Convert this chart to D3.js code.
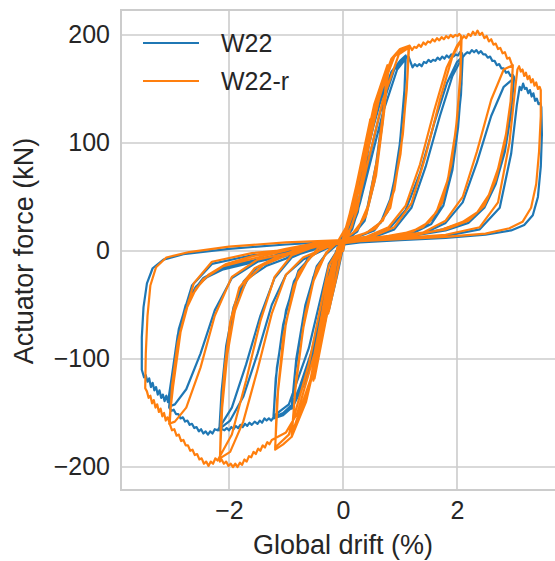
<!DOCTYPE html>
<html>
<head>
<meta charset="utf-8">
<script src="https://cdn.jsdelivr.net/npm/d3@7"></script>
<style>
  html, body { margin: 0; padding: 0; background: #ffffff; }
  svg { display: block; }
  text { font-family: "Liberation Sans", Arial, "DejaVu Sans", sans-serif; fill: #262626; }
</style>
</head>
<body>
<svg id="chart" width="555" height="561"></svg>
<script>
// Cyclic test: actuator force (kN) against global drift (%), two specimens.
const seriesNames = ["W22", "W22-r"];
const xTicks = [-2, 0, 2];
const yTicks = [-200, -100, 0, 100, 200];

// W22: [drift %, force kN] along the loading history
const w22 = [
  [0,0],[0.1,24],[0.25,56],[0.14,30],[0.02,8],[-0.1,-22],[-0.25,-55],[-0.14,-28],[-0.02,4],
  [0.1,26],[0.26,57],[0.13,28],[0.01,7],[-0.12,-26],[-0.26,-56],[-0.13,-26],[0,6],
  [0.2,48],[0.5,118],[0.42,88],[0.3,45],[0.16,20],[0.03,10],[-0.1,-8],[-0.3,-62],[-0.52,-112],[-0.45,-80],[-0.32,-38],[-0.18,-10],[-0.03,5],
  [0.22,50],[0.51,116],[0.4,80],[0.26,36],[0.1,14],[0,9],[-0.14,-16],[-0.34,-70],[-0.53,-110],[-0.44,-72],[-0.28,-26],[-0.12,0],[0,7],
  [0.25,60],[0.55,128],[0.75,160],[0.7,128],[0.58,80],[0.42,38],[0.25,18],[0.08,12],[-0.1,2],[-0.35,-58],[-0.65,-120],[-0.9,-146],[-0.84,-112],[-0.7,-62],[-0.52,-24],[-0.32,-4],[-0.1,6],
  [0.1,22],[0.4,90],[0.76,158],[0.69,118],[0.55,64],[0.38,28],[0.18,15],[0,10],[-0.2,-20],[-0.5,-92],[-0.9,-144],[-0.82,-100],[-0.66,-50],[-0.46,-14],[-0.2,4],
  [0,9],[0.25,52],[0.6,130],[0.85,166],[1.0,176],[1.1,181],[1.08,150],[1.0,100],[0.86,52],[0.66,26],[0.4,16],[0.12,11],[-0.05,6],[-0.3,-38],[-0.65,-115],[-0.92,-146],[-1.05,-152],[-1.22,-155],[-1.18,-118],[-1.05,-68],[-0.86,-28],[-0.6,-6],[-0.3,4],
  [0,9],[0.3,45],[0.7,128],[0.95,168],[1.1,178],[1.07,138],[0.96,80],[0.78,36],[0.55,19],[0.25,13],[0,9],[-0.25,-12],[-0.6,-90],[-0.95,-142],[-1.22,-153],[-1.16,-108],[-1.0,-55],[-0.78,-18],[-0.45,1],[-0.15,7],
  [0,9],[0.3,52],[0.65,128],[0.9,168],[1.05,177],[1.15,180],[1.22,170],[1.26,173],[1.3,171],[1.34,173],[1.38,171],[1.42,175],[1.46,174],[1.5,177],[1.54,175],[1.58,177],[1.62,176],[1.66,179],[1.7,177],[1.74,180],[1.78,178],[1.82,181],[1.86,179],[1.9,182],[1.94,180],[1.98,182],[2.02,181],[2.05,184],[2.09,183],
  [2.08,155],[2.02,115],[1.92,75],[1.76,42],[1.55,25],[1.25,17],[0.8,13],[0.35,10],[0,8],
  [-0.2,-15],[-0.5,-85],[-0.85,-140],[-1.05,-150],[-1.22,-154],[-1.26,-157],[-1.3,-155],[-1.34,-157],[-1.38,-155],[-1.42,-159],[-1.46,-157],[-1.5,-160],[-1.55,-158],[-1.6,-161],[-1.64,-159],[-1.68,-162],[-1.72,-160],[-1.76,-163],[-1.8,-161],[-1.84,-164],[-1.88,-162],[-1.92,-165],[-1.96,-163],[-2.0,-166],[-2.04,-164],[-2.08,-166],[-2.12,-165],[-2.17,-166],
  [-2.13,-130],[-2.05,-88],[-1.92,-52],[-1.74,-28],[-1.5,-15],[-1.1,-6],[-0.6,2],[-0.2,7],
  [0,9],[0.4,12],[0.8,20],[1.1,38],[1.35,72],[1.6,118],[1.82,155],[2.0,175],[2.1,180],
  [2.07,145],[1.98,100],[1.84,60],[1.65,34],[1.4,21],[1.0,14],[0.5,11],[0,8],
  [-0.3,2],[-0.7,-8],[-1.0,-22],[-1.25,-50],[-1.5,-95],[-1.75,-135],[-1.98,-157],[-2.15,-164],
  [-2.1,-120],[-2.0,-78],[-1.86,-45],[-1.66,-25],[-1.35,-14],[-0.9,-5],[-0.4,3],[0,8],
  [0.5,12],[0.9,20],[1.2,40],[1.45,78],[1.7,125],[1.92,162],[2.08,178],[2.14,182],[2.18,184],[2.22,183],[2.26,186],[2.3,184],[2.34,186],[2.38,183],[2.42,185],[2.46,182],[2.5,182],[2.54,179],[2.58,180],[2.62,176],[2.66,176],[2.7,172],[2.74,173],[2.78,169],[2.82,169],[2.86,165],[2.9,166],[2.94,162],[2.98,163],[3.0,161],
  [2.96,135],[2.86,102],[2.72,72],[2.56,50],[2.36,35],[2.1,26],[1.75,20],[1.3,15],[0.7,12],[0,9],
  [-0.5,3],[-0.9,-6],[-1.2,-25],[-1.45,-60],[-1.7,-105],[-1.95,-145],[-2.15,-162],[-2.2,-166],[-2.25,-165],[-2.29,-169],[-2.33,-167],[-2.37,-170],[-2.41,-167],[-2.45,-169],[-2.49,-165],[-2.53,-167],[-2.57,-163],[-2.61,-164],[-2.65,-160],[-2.69,-161],[-2.73,-157],[-2.77,-158],[-2.81,-154],[-2.85,-155],[-2.89,-151],[-2.93,-151],[-2.97,-147],[-3.01,-148],[-3.05,-145],
  [-3.0,-115],[-2.9,-78],[-2.76,-50],[-2.58,-33],[-2.38,-24],[-2.1,-17],[-1.7,-12],[-1.2,-6],[-0.6,2],[0,8],
  [0.8,12],[1.4,16],[1.8,26],[2.1,45],[2.35,82],[2.6,125],[2.82,152],[3.0,160],
  [2.95,128],[2.84,92],[2.68,62],[2.48,40],[2.2,26],[1.8,19],[1.2,14],[0.5,11],[0,8],
  [-0.8,-2],[-1.5,-10],[-1.95,-25],[-2.25,-55],[-2.5,-95],[-2.75,-128],[-2.95,-142],[-3.05,-144],
  [-2.98,-108],[-2.86,-70],[-2.7,-42],[-2.45,-25],[-2.1,-15],[-1.5,-8],[-0.8,1],[0,8],
  [1.0,11],[1.8,14],[2.4,20],[2.75,40],[2.95,90],[3.05,135],[3.1,152],[3.13,149],[3.16,155],[3.19,150],[3.22,151],[3.25,146],[3.28,149],[3.31,143],[3.34,146],[3.37,139],[3.4,141],[3.43,136],[3.46,137],[3.48,133],
  [3.49,108],[3.47,78],[3.42,50],[3.33,33],[3.18,24],[2.95,19],[2.5,15],[1.8,12],[1.0,10],[0.3,8],
  [-0.6,2],[-1.6,-4],[-2.3,-12],[-2.65,-32],[-2.88,-72],[-3.0,-115],[-3.07,-140],[-3.1,-134],[-3.13,-139],[-3.16,-133],[-3.19,-136],[-3.22,-129],[-3.25,-133],[-3.28,-126],[-3.31,-129],[-3.34,-122],[-3.37,-126],[-3.4,-118],[-3.43,-121],[-3.46,-115],[-3.49,-117],[-3.53,-110],
  [-3.53,-80],[-3.5,-52],[-3.44,-30],[-3.34,-16],[-3.15,-8],[-2.8,-3],[-2.0,2],[-1.0,6],[0,9]
];

// W22-r: [drift %, force kN] along the loading history
const w22r = [
  [0,0],[0.1,26],[0.25,58],[0.14,32],[0.02,10],[-0.1,-20],[-0.25,-56],[-0.14,-30],[-0.02,4],
  [0.1,28],[0.26,60],[0.13,30],[0.01,9],[-0.12,-24],[-0.26,-58],[-0.13,-28],[0,7],
  [0.2,52],[0.48,122],[0.4,90],[0.28,46],[0.15,22],[0.03,12],[-0.1,-6],[-0.3,-64],[-0.5,-118],[-0.43,-84],[-0.3,-40],[-0.16,-10],[-0.03,6],
  [0.22,54],[0.5,124],[0.4,84],[0.25,38],[0.1,16],[0,10],[-0.14,-14],[-0.34,-74],[-0.52,-120],[-0.43,-76],[-0.27,-28],[-0.1,1],[0,8],
  [0.25,64],[0.55,136],[0.78,172],[0.72,135],[0.6,85],[0.44,42],[0.26,20],[0.08,13],[-0.1,3],[-0.35,-72],[-0.65,-140],[-0.9,-172],[-0.84,-130],[-0.7,-72],[-0.52,-28],[-0.3,-2],[-0.1,8],
  [0.1,26],[0.4,100],[0.8,170],[0.72,128],[0.58,70],[0.4,32],[0.18,17],[0,11],[-0.2,-24],[-0.5,-108],[-0.9,-170],[-0.82,-118],[-0.66,-58],[-0.46,-16],[-0.2,5],
  [0,10],[0.25,58],[0.6,142],[0.85,178],[1.0,187],[1.16,190],[1.13,160],[1.05,108],[0.9,56],[0.7,28],[0.42,17],[0.12,12],[-0.05,7],[-0.3,-48],[-0.62,-132],[-0.9,-172],[-1.05,-179],[-1.19,-184],[-1.16,-140],[-1.05,-80],[-0.86,-32],[-0.6,-7],[-0.3,5],
  [0,10],[0.3,52],[0.7,140],[0.98,182],[1.15,188],[1.12,150],[1.01,90],[0.83,40],[0.58,21],[0.28,14],[0,10],[-0.25,-14],[-0.6,-105],[-0.95,-170],[-1.19,-182],[-1.14,-130],[-1.0,-66],[-0.78,-20],[-0.45,2],[-0.15,8],
  [0,10],[0.3,60],[0.65,145],[0.9,180],[1.05,187],[1.17,190],[1.21,186],[1.25,189],[1.29,188],[1.33,191],[1.37,189],[1.41,193],[1.45,191],[1.49,194],[1.53,193],[1.57,196],[1.61,194],[1.65,197],[1.69,195],[1.73,198],[1.77,196],[1.81,199],[1.85,197],[1.89,200],[1.93,198],[1.97,200],[2.01,199],[2.04,201],[2.07,199],
  [2.06,165],[2.0,122],[1.9,80],[1.74,45],[1.52,27],[1.22,18],[0.8,14],[0.35,11],[0,9],
  [-0.2,-14],[-0.5,-95],[-0.8,-150],[-1.0,-168],[-1.25,-175],[-1.29,-179],[-1.33,-177],[-1.37,-182],[-1.41,-180],[-1.45,-185],[-1.49,-183],[-1.53,-188],[-1.57,-186],[-1.61,-191],[-1.65,-190],[-1.69,-195],[-1.73,-193],[-1.77,-198],[-1.81,-196],[-1.85,-200],[-1.89,-197],[-1.93,-200],[-1.97,-197],[-2.01,-199],[-2.05,-195],[-2.09,-197],[-2.13,-193],[-2.16,-195],
  [-2.14,-155],[-2.08,-110],[-1.98,-66],[-1.82,-34],[-1.55,-16],[-1.1,-4],[-0.6,4],[-0.2,9],
  [0,10],[0.4,13],[0.8,22],[1.1,42],[1.35,80],[1.6,130],[1.82,170],[2.0,190],[2.08,196],
  [2.06,160],[1.98,112],[1.84,66],[1.64,36],[1.4,22],[1.0,15],[0.5,12],[0,9],
  [-0.3,3],[-0.7,-6],[-1.0,-22],[-1.25,-58],[-1.5,-110],[-1.75,-158],[-1.98,-186],[-2.16,-192],
  [-2.12,-145],[-2.03,-96],[-1.9,-56],[-1.7,-28],[-1.4,-13],[-0.9,-2],[-0.4,5],[0,9],
  [0.5,13],[0.9,22],[1.2,44],[1.45,88],[1.7,140],[1.92,180],[2.08,196],[2.12,199],[2.16,197],[2.2,201],[2.24,199],[2.28,203],[2.32,200],[2.36,204],[2.4,200],[2.44,202],[2.48,197],[2.52,199],[2.56,194],[2.6,196],[2.64,191],[2.68,192],[2.72,187],[2.76,188],[2.8,183],[2.84,184],[2.88,178],[2.92,179],[2.96,173],[2.98,172],
  [2.95,142],[2.86,108],[2.72,76],[2.56,52],[2.36,36],[2.1,27],[1.75,20],[1.3,15],[0.7,12],[0,10],
  [-0.5,4],[-0.9,-4],[-1.2,-24],[-1.45,-65],[-1.7,-120],[-1.95,-170],[-2.16,-190],[-2.2,-194],[-2.24,-192],[-2.28,-197],[-2.32,-195],[-2.36,-199],[-2.4,-195],[-2.44,-197],[-2.48,-192],[-2.52,-193],[-2.56,-188],[-2.6,-189],[-2.64,-184],[-2.68,-185],[-2.72,-180],[-2.76,-180],[-2.8,-175],[-2.84,-176],[-2.88,-170],[-2.92,-171],[-2.96,-165],[-3.0,-166],[-3.04,-160],
  [-3.0,-125],[-2.9,-85],[-2.76,-55],[-2.58,-35],[-2.36,-22],[-2.05,-12],[-1.6,-5],[-1.0,2],[-0.5,7],[0,10],
  [0.8,13],[1.4,17],[1.8,28],[2.1,50],[2.35,92],[2.6,140],[2.82,168],[2.98,172],
  [2.94,138],[2.84,100],[2.68,66],[2.48,42],[2.2,28],[1.8,20],[1.2,15],[0.5,12],[0,10],
  [-0.8,0],[-1.5,-8],[-1.95,-24],[-2.25,-60],[-2.5,-108],[-2.75,-145],[-2.95,-158],[-3.05,-160],
  [-2.98,-118],[-2.86,-76],[-2.7,-45],[-2.45,-26],[-2.1,-14],[-1.5,-6],[-0.8,3],[0,9],
  [1.0,12],[1.8,15],[2.4,22],[2.72,45],[2.92,100],[3.02,150],[3.06,168],[3.09,171],[3.12,166],[3.15,168],[3.18,162],[3.21,165],[3.24,159],[3.27,162],[3.3,156],[3.33,159],[3.36,153],[3.39,156],[3.42,150],[3.45,152],[3.47,149],
  [3.47,125],[3.44,92],[3.39,62],[3.3,40],[3.15,27],[2.92,21],[2.5,16],[1.8,13],[1.0,11],[0.3,9],
  [-0.6,3],[-1.6,-2],[-2.3,-10],[-2.62,-30],[-2.85,-75],[-2.98,-125],[-3.05,-158],[-3.08,-154],[-3.11,-157],[-3.14,-150],[-3.17,-153],[-3.2,-146],[-3.23,-149],[-3.26,-142],[-3.29,-145],[-3.32,-138],[-3.35,-141],[-3.38,-134],[-3.41,-136],[-3.44,-130],[-3.47,-127],
  [-3.46,-95],[-3.43,-60],[-3.38,-32],[-3.28,-15],[-3.1,-6],[-2.7,-1],[-2.0,4],[-1.0,8],[0,10]
];

const colors = ["#1f77b4", "#ff7f0e"];

const svg = d3.select("#chart");
const plot = { left: 121, top: 10, right: 565, bottom: 490 };

const x = d3.scaleLinear().domain([-3.895, 3.895]).range([plot.left, plot.right]);
const y = d3.scaleLinear().domain([-221.3, 223.1]).range([plot.bottom, plot.top]);

svg.append("defs").append("clipPath").attr("id", "plot-clip")
  .append("rect")
  .attr("x", plot.left).attr("y", plot.top)
  .attr("width", plot.right - plot.left).attr("height", plot.bottom - plot.top);

// gridlines
const grid = svg.append("g");
grid.selectAll("line.gx").data(xTicks).join("line")
  .attr("x1", d => x(d)).attr("x2", d => x(d))
  .attr("y1", plot.top).attr("y2", plot.bottom)
  .attr("stroke", "#cccccc").attr("stroke-width", 1.6);
grid.selectAll("line.gy").data(yTicks).join("line")
  .attr("x1", plot.left).attr("x2", plot.right)
  .attr("y1", d => y(d)).attr("y2", d => y(d))
  .attr("stroke", "#cccccc").attr("stroke-width", 1.6);

// frame
svg.append("rect")
  .attr("x", plot.left).attr("y", plot.top)
  .attr("width", plot.right - plot.left).attr("height", plot.bottom - plot.top)
  .attr("fill", "none").attr("stroke", "#cccccc").attr("stroke-width", 2);

// axes (labels only, no tick marks)
const fmt = d3.format("d");
const xAxis = svg.append("g")
  .attr("transform", `translate(0,${plot.bottom})`)
  .call(d3.axisBottom(x).tickValues(xTicks).tickFormat(fmt).tickSize(0).tickPadding(11));
const yAxis = svg.append("g")
  .attr("transform", `translate(${plot.left},0)`)
  .call(d3.axisLeft(y).tickValues(yTicks).tickFormat(fmt).tickSize(0).tickPadding(11));
[xAxis, yAxis].forEach(a => {
  a.select(".domain").remove();
  a.selectAll("text")
    .attr("fill", "#262626")
    .style("font-family", '"Liberation Sans", Arial, sans-serif')
    .style("font-size", "25px");
});

// hysteresis curves
const line = d3.line().x(d => x(d[0])).y(d => y(d[1]));
const curves = svg.append("g").attr("clip-path", "url(#plot-clip)");
[w22, w22r].forEach((data, i) => {
  curves.append("path")
    .datum(data)
    .attr("d", line)
    .attr("fill", "none")
    .attr("stroke", colors[i])
    .attr("stroke-width", 2.2)
    .attr("stroke-linejoin", "round")
    .attr("stroke-linecap", "round");
});

// axis titles
svg.append("text")
  .attr("x", x(0)).attr("y", 554)
  .attr("text-anchor", "middle")
  .style("font-size", "27px")
  .text("Global drift (%)");
svg.append("text")
  .attr("transform", `translate(33,${y(0)}) rotate(-90)`)
  .attr("text-anchor", "middle")
  .style("font-size", "27px")
  .text("Actuator force (kN)");

// legend
const legend = svg.append("g");
seriesNames.forEach((name, i) => {
  const ly = 43 + i * 38;
  legend.append("line")
    .attr("x1", 143).attr("x2", 199).attr("y1", ly).attr("y2", ly)
    .attr("stroke", colors[i]).attr("stroke-width", 2.2);
  legend.append("text")
    .attr("x", 221).attr("y", ly + 9)
    .style("font-size", "25px")
    .text(name);
});
</script>
</body>
</html>
